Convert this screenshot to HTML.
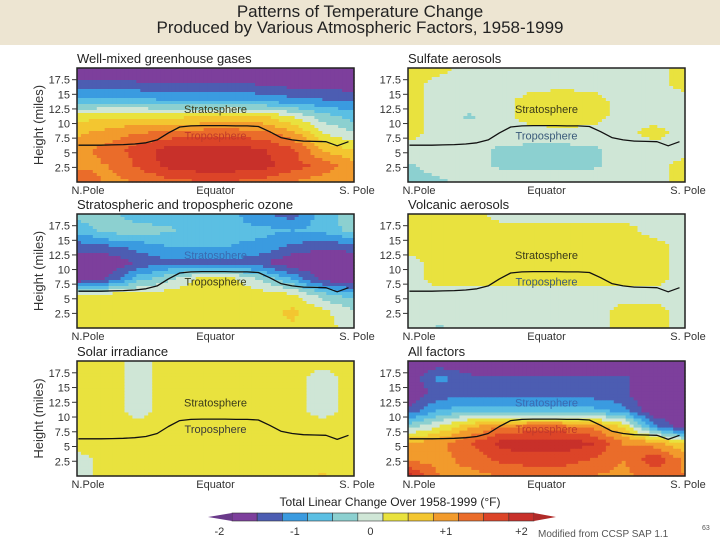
<!DOCTYPE html>
<html><head><meta charset="utf-8"><style>
body{margin:0;background:#fff;width:720px;height:540px;overflow:hidden;font-family:"Liberation Sans",sans-serif}
#band{position:absolute;left:0;top:0;width:720px;height:45px;background:#ede5d2}
.t{position:absolute;width:720px;text-align:center;font-size:17px;color:#222;left:0}
svg{position:absolute;left:0;top:0}
</style></head><body>
<div id="band"></div>
<div class="t" style="top:2px">Patterns of Temperature Change</div>
<div class="t" style="top:18px">Produced by Various Atmospheric Factors, 1958-1999</div>
<svg id="chart" width="720" height="540"></svg>
<script>
// grid values (°F), rows top(high altitude) -> bottom, cols N.Pole -> S.Pole
const panelTitles=["Well-mixed greenhouse gases","Sulfate aerosols","Stratospheric and tropospheric ozone","Volcanic aerosols","Solar irradiance","All factors"];
const ghg=[[-2,-2,-2,-2,-2,-2,-2,-2,-2,-2],[-1.5,-1.5,-1.6,-1.6,-1.6,-1.6,-1.7,-1.8,-1.8,-1.9],[-0.9,-0.9,-0.9,-1,-1,-1,-1.1,-1.2,-1.3,-1.4],[0.2,0.3,0.3,0.3,0.3,0.4,0.4,0,-0.5,-0.8],[0.6,0.8,1,1.1,1.2,1.2,1.1,0.8,0,-0.3],[0.9,1.1,1.5,1.8,1.8,1.8,1.7,1.4,0.6,0.3],[0.9,1.0,1.4,1.8,1.9,1.9,1.8,1.5,1.2,0.8],[1.3,0.9,1.0,1.2,1.3,1.3,1.2,1.0,0.8,0.9]];
const sulfate=[[0.1,0.1,-0.1,-0.1,-0.1,-0.1,-0.1,-0.1,-0.1,0.1],[0.1,-0.1,-0.1,-0.1,-0.1,-0.1,-0.1,-0.1,-0.1,0.1],[0.1,-0.1,-0.1,-0.1,0.1,0.2,0.1,-0.1,-0.1,-0.1],[0.1,-0.1,-0.4,-0.1,0.1,0.2,0.1,-0.1,-0.1,-0.1],[0.1,-0.1,-0.1,-0.1,-0.1,-0.1,-0.1,-0.1,0.1,-0.1],[-0.1,-0.1,-0.2,-0.4,-0.45,-0.45,-0.4,-0.2,-0.1,-0.1],[-0.4,-0.2,-0.2,-0.4,-0.45,-0.45,-0.4,-0.2,-0.1,0.1],[-0.4,-0.4,-0.2,-0.1,-0.1,-0.1,-0.1,-0.1,-0.1,0.1]];
const ozone=[[-0.5,-0.5,-0.9,-0.9,-0.9,-0.9,-1.3,-1.5,-0.8,-0.5],[-0.9,-0.5,-0.5,-0.6,-0.9,-0.9,-0.9,-1.0,-0.9,-0.5],[-1.5,-1.4,-1.2,-1.0,-1.0,-1.0,-1.1,-1.4,-1.6,-1.5],[-2,-2,-1.6,-1.4,-1.4,-1.4,-1.6,-2,-2,-2],[-2,-1.6,-0.8,-0.4,0.1,0.1,-0.4,-1.0,-1.8,-2],[0.1,0.2,0.2,0.2,0.2,0.2,0.2,0.1,-0.5,-0.8],[0.2,0.2,0.2,0.2,0.2,0.2,0.2,0.4,0.1,-0.3],[0.2,0.2,0.2,0.2,0.2,0.2,0.2,0.3,0.1,-0.1]];
const volcanic=[[0.1,0.1,0.1,-0.1,-0.1,-0.1,-0.1,-0.1,-0.1,-0.1],[0.1,0.1,0.1,0.1,0.1,0.1,0.1,0.1,-0.1,-0.1],[0.1,0.1,0.1,0.1,0.1,0.1,0.1,0.1,0.1,-0.1],[-0.1,0.1,0.1,0.1,0.1,0.1,0.1,0.1,0.1,-0.1],[-0.1,0.1,0.1,0.1,0.1,0.1,0.1,0.1,0.1,-0.1],[-0.1,-0.1,-0.1,-0.1,-0.1,-0.1,-0.1,-0.1,-0.1,-0.1],[-0.1,-0.1,-0.1,-0.1,-0.1,-0.1,-0.1,0.1,0.1,-0.1],[-0.1,-0.4,-0.1,-0.1,-0.1,-0.1,-0.1,0.1,0.1,-0.1]];
const solar=[[0.1,0.1,-0.1,0.1,0.1,0.1,0.1,0.1,0.1,0.1],[0.1,0.1,-0.1,0.1,0.1,0.1,0.1,0.1,-0.1,0.1],[0.1,0.1,-0.1,0.1,0.1,0.1,0.1,0.1,-0.1,0.1],[0.1,0.1,-0.1,0.1,0.1,0.1,0.1,0.1,-0.1,0.1],[0.1,0.1,0.1,0.1,0.1,0.1,0.1,0.1,0.1,0.1],[0.1,0.1,0.1,0.1,0.1,0.1,0.1,0.1,0.1,0.1],[-0.1,0.1,0.1,0.1,0.1,0.1,0.1,0.1,0.1,0.1],[-0.1,0.1,0.1,0.1,0.1,0.1,0.1,0.1,0.4,0.1]];
const allFactors=[[-2,-2,-2,-2,-2,-2,-2,-2,-2,-2],[-2,-1.2,-1.6,-1.6,-1.6,-1.6,-1.6,-1.6,-2,-2],[-2,-1.5,-1.5,-1.5,-1.5,-1.5,-1.5,-1.6,-2,-2],[-1.6,-1.0,-0.8,-0.8,-0.8,-0.8,-0.9,-1.2,-2,-2],[-0.5,0,0.6,1.0,1.1,1.1,0.9,0.3,-1.2,-2],[0.7,0.9,1.3,1.8,1.9,1.9,1.7,1.0,0.8,0.3],[0.9,0.9,1.1,1.4,1.5,1.5,1.3,1.0,1.6,0.9],[1.8,1.0,0.9,1.0,1.1,1.1,1.0,0.9,1.1,1.0]];
// tropopause height (miles) at evenly spaced latitudes N->S
const tropopause=[6.3,6.3,6.3,6.35,6.4,6.5,6.7,7.2,8.4,9.4,9.6,9.65,9.65,9.65,9.6,9.6,9.5,8.6,7.6,7.2,7.0,6.95,6.9,6.2,6.9];
const yTicks=[2.5,5,7.5,10,12.5,15,17.5];
const yTickLabels=["2.5","5","7.5","10","12.5","15","17.5"];
const cbLabels=["-2","-1","0","+1","+2"];
const cbTickVals=[-2,-1,0,1,2];
const cbColors=["#7d3f9c","#4c5db2","#3a9be0","#5bbfe3","#8cd0d0","#cfe6d6","#e9e23e","#f3c630","#f29b2c","#ea6c2a","#dc4428","#c8302a"];
const panelData=[ghg,sulfate,ozone,volcanic,solar,allFactors];
const NS="http://www.w3.org/2000/svg";
const svg=document.getElementById('chart');
function el(t,a,p){const e=document.createElementNS(NS,t);for(const k in a)e.setAttribute(k,a[k]);(p||svg).appendChild(e);return e;}
function colorFor(v){let i=Math.floor((v+2)*3);i=Math.max(0,Math.min(11,i));return cbColors[i];}
const cols=[[77,354],[408,685]],rows=[[68,182],[214,328],[361,476]];
const YMAX=19.5;
panelData.forEach((grid,pi)=>{
  const [x0,x1]=cols[pi%2],[y0,y1]=rows[Math.floor(pi/2)];
  const W=x1-x0,H=y1-y0;
  const g=el('g',{});
  
  
  const xS=f=>x0+f*W, yS=h=>y1-h/YMAX*H;
  const nr=grid.length,nc=grid[0].length;
  const NX=70,NY=38;
  for(let j=0;j<NY;j++)for(let i=0;i<NX;i++){
    const fx=(i+0.5)/NX*(nc-1),fy=(j+0.5)/NY*(nr-1);
    const c0=Math.floor(fx),r0=Math.floor(fy),c1=Math.min(nc-1,c0+1),r1=Math.min(nr-1,r0+1);
    const tx=fx-c0,ty=fy-r0;
    const v=(grid[r0][c0]*(1-tx)+grid[r0][c1]*tx)*(1-ty)+(grid[r1][c0]*(1-tx)+grid[r1][c1]*tx)*ty;
    const r=el('rect',{x:(x0+i*W/NX).toFixed(2),y:(y0+j*H/NY).toFixed(2),width:(W/NX+0.6).toFixed(2),height:(H/NY+0.6).toFixed(2),fill:colorFor(v)},g);
    
    
  }
  const pts=tropopause.map((h,k)=>xS(0.005+k/(tropopause.length-1)*0.975).toFixed(1)+','+yS(h).toFixed(1)).join(' ');
  const tl=el('polyline',{points:pts,fill:'none',stroke:'#111','stroke-width':1.3,'stroke-linejoin':'round'},g);
  
  
  const bx=el('rect',{x:x0,y:y0,width:W,height:H,fill:'none',stroke:'#222','stroke-width':1.5},g);
  
  
  const tc=(pi===0||pi===5)?'#c0392b':(pi===2?'#3a3a1a':'#3a3a3a');
  const sc=(pi===2||pi===5)?'#3a6ab0':'#3a3a1a';
  const s=el('text',{x:xS(0.5),y:yS(11.8),'font-size':11,'text-anchor':'middle',fill:sc},g);s.textContent='Stratosphere';
  
  
  const tt=el('text',{x:xS(0.5),y:yS(7.3),'font-size':11,'text-anchor':'middle',fill:(pi===1||pi===3)?'#3a5a7a':tc},g);tt.textContent='Troposphere';
  
  
  yTicks.forEach((v,k)=>{
    el('line',{x1:x0-5,x2:x0,y1:yS(v),y2:yS(v),stroke:'#333','stroke-width':1},g);
    const t=el('text',{x:x0-7,y:yS(v)+4,'font-size':11,'text-anchor':'end',fill:'#333'},g);t.textContent=yTickLabels[k];
    
    
  });
  [['N.Pole',x0+11],['Equator',xS(0.5)],['S. Pole',x1+3]].forEach(([s2,x])=>{
    const t=el('text',{x:x,y:y1+12,'font-size':11,'text-anchor':'middle',fill:'#333'},g);t.textContent=s2;
    
    
  });
  const ti=el('text',{x:x0,y:y0-5,'font-size':13,fill:'#222'},g);ti.textContent=panelTitles[pi];
  
  
  if(pi%2===0){
    const yt=el('text',{x:0,y:0,'font-size':13,'text-anchor':'middle',fill:'#333',transform:`translate(43,${(y0+y1)/2}) rotate(-90)`},g);yt.textContent='Height (miles)';
    
    
  }
});
// colorbar
const cbx0=232,cbx1=534,cby=513,cbh=8,segW=(cbx1-cbx0)/cbColors.length;
const cb=el('g',{});


const vx=v=>cbx0+(v+2)*3*segW;
cbColors.forEach((c,i)=>{
  const r=el('rect',{x:cbx0+i*segW,y:cby,width:segW,height:cbh,fill:c,stroke:'#333','stroke-width':0.6},cb);
  
  
});
el('polygon',{points:`${cbx0},${cby} 208,${cby+cbh/2} ${cbx0},${cby+cbh}`,fill:'#6a3a8a'},cb);
el('polygon',{points:`${cbx1},${cby} 556,${cby+cbh/2} ${cbx1},${cby+cbh}`,fill:'#b02a28'},cb);
cbTickVals.forEach((v,i)=>{
  const t=el('text',{x:vx(v)-segW*0.5,y:535,'font-size':11,'text-anchor':'middle',fill:'#333'},cb);t.textContent=cbLabels[i];
  
  
});
const ct=el('text',{x:390,y:506,'font-size':12,'text-anchor':'middle',fill:'#222'});ct.textContent='Total Linear Change Over 1958-1999 (°F)';


const src=el('text',{x:538,y:537,'font-size':10,fill:'#555'});src.textContent='Modified from CCSP SAP 1.1';


const sup=el('text',{x:702,y:530,'font-size':7,fill:'#555'});sup.textContent='63';


</script>
</body></html>
